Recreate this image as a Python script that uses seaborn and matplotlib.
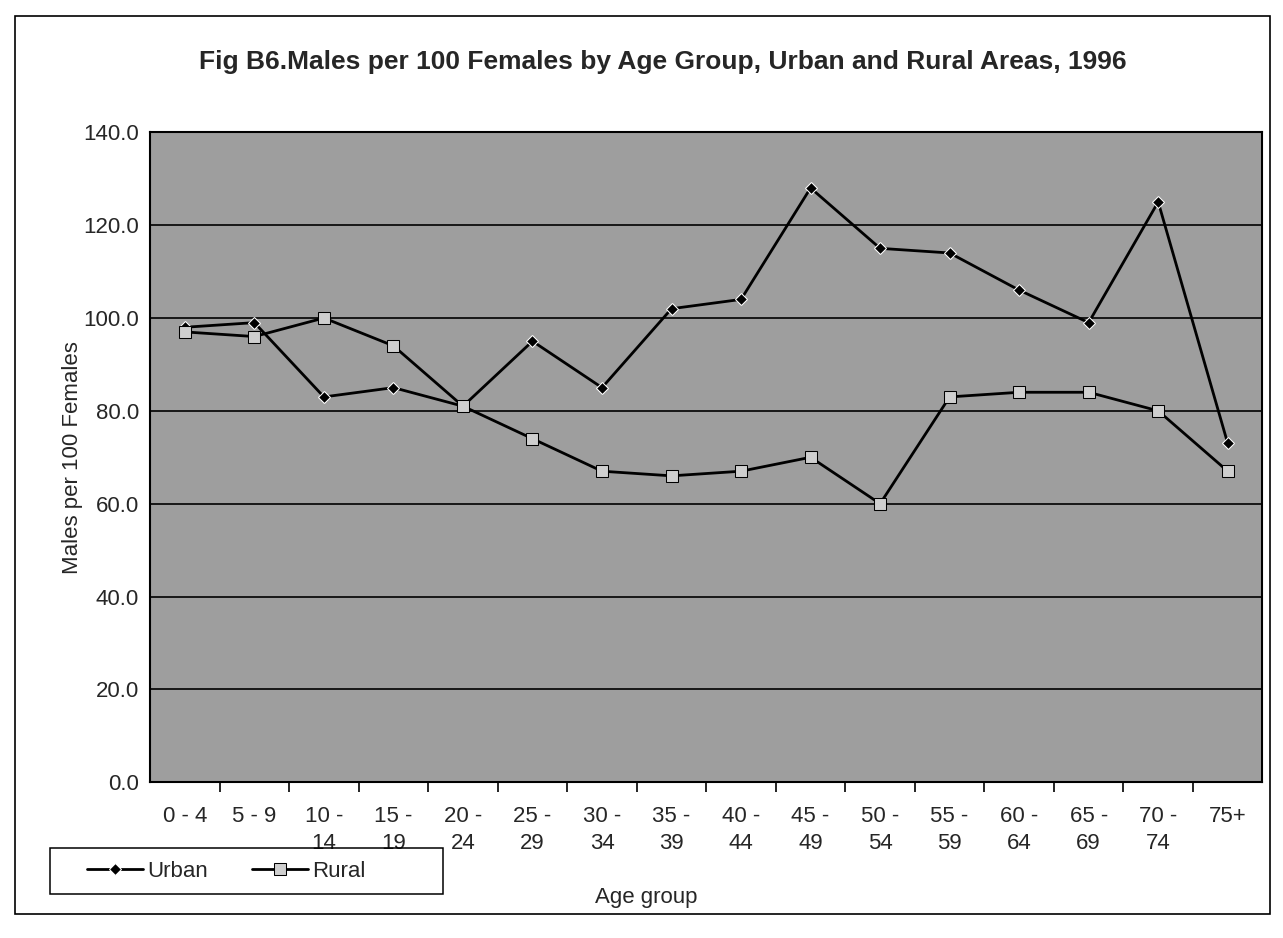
import pandas as pd
import matplotlib.pyplot as plt
import seaborn as sns
from matplotlib.patches import Rectangle

# Age groups and ratios
age_groups = ["0 - 4", "5 - 9", "10 -\n14", "15 -\n19", "20 -\n24", "25 -\n29",
              "30 -\n34", "35 -\n39", "40 -\n44", "45 -\n49", "50 -\n54", "55 -\n59",
              "60 -\n64", "65 -\n69", "70 -\n74", "75+"]
urban = [98, 99, 83, 85, 81, 95, 85, 102, 104, 128, 115, 114, 106, 99, 125, 73]
rural = [97, 96, 100, 94, 81, 74, 67, 66, 67, 70, 60, 83, 84, 84, 80, 67]
y_ticks = [0, 20, 40, 60, 80, 100, 120, 140]

df = pd.DataFrame({
    "age": age_groups * 2,
    "ratio": urban + rural,
    "area": ["Urban"] * len(urban) + ["Rural"] * len(rural),
})

sns.set_style("white")
plt.rcParams["font.family"] = ["Liberation Sans", "DejaVu Sans"]

fig = plt.figure(figsize=(12.83, 9.38), dpi=100)
ax = fig.add_axes([0.117, 0.166, 0.867, 0.693])
ax.set_facecolor("#9e9e9e")

sns.lineplot(
    data=df, x="age", y="ratio", hue="area", style="area",
    markers={"Urban": "D", "Rural": "s"}, dashes=False,
    palette={"Urban": "black", "Rural": "black"},
    sort=False, linewidth=2, markersize=8, ax=ax, legend=True,
)
# rural squares get a lighter fill, urban diamonds stay small and solid
for line in ax.lines:
    if line.get_marker() == "s":
        line.set_markerfacecolor("#cfcfcf")
        line.set_markeredgecolor("black")
    elif line.get_marker() == "D":
        line.set_markersize(6.5)

ax.set_xlim(-0.5, len(age_groups) - 0.5)
ax.set_ylim(0, 140)
ax.set_yticks(y_ticks)
ax.set_yticklabels([f"{v:.1f}" for v in y_ticks], fontsize=16)
ax.yaxis.grid(True, color="black", linewidth=1.2)
for art in ax.get_ygridlines():
    art.set_zorder(0.5)
ax.tick_params(axis="x", labelsize=16, length=0, pad=17)
ax.tick_params(axis="y", length=0, pad=8)
for lbl in ax.get_xticklabels():
    lbl.set_linespacing(1.4)
# category boundary ticks, Excel style
ax.set_xticks([i + 0.5 for i in range(len(age_groups) - 1)], minor=True)
ax.tick_params(axis="x", which="minor", length=7, width=1.2, color="black", direction="out")
ax.tick_params(axis="x", which="major", bottom=False)
ax.xaxis.set_tick_params(which="minor", bottom=True)

for s in ax.spines.values():
    s.set_color("black")
    s.set_linewidth(1.5)

ax.set_xlabel("")
ax.set_ylabel("Males per 100 Females", fontsize=16, labelpad=0)
fig.text(0.504, 0.043, "Age group", fontsize=16, ha="center", va="center")
fig.suptitle("Fig B6.Males per 100 Females by Age Group, Urban and Rural Areas, 1996",
             fontsize=19, fontweight="bold", x=0.517, y=0.934, va="center")

# legend box sits over the second row of tick labels, like the scan
handles, labels = ax.get_legend_handles_labels()
ax.get_legend().remove()
for h in handles:
    if h.get_marker() == "s":
        h.set_markerfacecolor("#cfcfcf")
        h.set_markeredgecolor("black")
fig.legend(handles, labels, ncol=2, loc="center left",
           bbox_to_anchor=(0.068, 0.071), bbox_transform=fig.transFigure,
           fontsize=16, frameon=False, handlelength=2.5, handletextpad=0.2,
           columnspacing=2.0, borderaxespad=0, borderpad=0)
fig.patches.append(Rectangle((0.039, 0.047), 0.306, 0.049, transform=fig.transFigure,
                             fill=False, edgecolor="black", linewidth=1.1))

# outer chart border
fig.patches.append(Rectangle((0.012, 0.026), 0.978, 0.957, transform=fig.transFigure,
                             fill=False, edgecolor="black", linewidth=1.2))

fig.savefig("out.png", dpi=100)
